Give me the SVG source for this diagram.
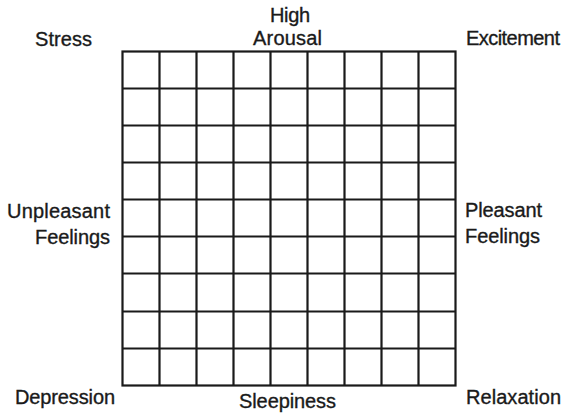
<svg xmlns="http://www.w3.org/2000/svg" width="567" height="414" viewBox="0 0 567 414">
<style>
text{font-family:"Liberation Sans",Arial,sans-serif;font-size:20px;fill:#1a1a1a;stroke:#1a1a1a;stroke-width:0.35}
.g{stroke:#1a1a1a;stroke-width:2.2;fill:none}
</style>
<rect width="567" height="414" fill="#fff"/>
<g id="grid" class="g">
<rect x="122.5" y="51.5" width="333" height="334"/>
<path d="M159.5 51.5V385.5M196.5 51.5V385.5M233.5 51.5V385.5M270.5 51.5V385.5M307.5 51.5V385.5M344.5 51.5V385.5M381.5 51.5V385.5M418.5 51.5V385.5"/>
<path d="M122.5 88.5H455.5M122.5 125.5H455.5M122.5 162.5H455.5M122.5 199.5H455.5M122.5 236.5H455.5M122.5 273.5H455.5M122.5 311.5H455.5M122.5 348.5H455.5"/>
</g>
<g id="labels">
<text x="35" y="46" textLength="57">Stress</text>
<text x="466" y="45" textLength="94">Excitement</text>
<text x="270" y="22" textLength="40">High</text>
<text x="253" y="45" textLength="69">Arousal</text>
<text x="7" y="218" textLength="103">Unpleasant</text>
<text x="35" y="244" textLength="75">Feelings</text>
<text x="465" y="217" textLength="77">Pleasant</text>
<text x="465" y="243" textLength="75">Feelings</text>
<text x="15" y="404" textLength="100">Depression</text>
<text x="239" y="408" textLength="97">Sleepiness</text>
<text x="466" y="404" textLength="95">Relaxation</text>
</g>
</svg>
